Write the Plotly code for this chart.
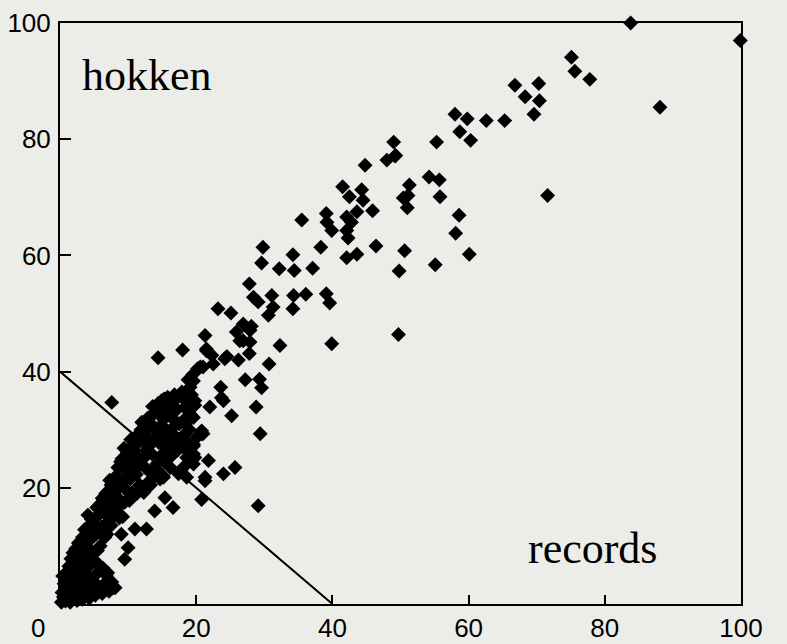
import plotly.graph_objects as go

# ---- data (records on x, hokken on y) ----
upper_x = [83.8, 99.9, 88.1, 75.1, 75.6, 77.8, 71.6,
           66.8, 70.3, 68.3, 70.4, 69.6,
           58.0, 59.8, 62.6, 65.3, 58.7, 60.3,
           49.0, 55.3, 49.2, 48.0, 49.3, 44.8,
           54.2, 55.7, 51.3, 50.4, 51.1, 51.0, 55.8,
           45.9, 58.6, 58.1, 46.4, 50.6, 60.1, 49.8, 55.1, 49.7,
           41.5, 42.5, 44.3, 44.5, 43.6, 42.1, 42.8, 42.1, 42.3,
           39.1, 39.2, 39.9, 35.5, 38.3, 42.1, 43.6,
           29.8, 29.6, 34.2, 32.2, 34.4, 37.1,
           27.8, 28.4, 29.1, 31.1, 31.3, 30.6, 34.3, 34.2, 36.1, 39.1, 39.6,
           23.2, 25.1, 26.9, 25.9, 27.9, 26.9, 27.9, 27.8, 26.2, 32.3, 30.7, 39.9,
           21.3, 21.5, 22.5, 24.2, 21.0, 27.2, 29.3, 29.6, 23.6, 23.7, 28.1, 26.4]
upper_y = [100.0, 97.0, 85.5, 94.1, 91.7, 90.3, 70.3,
           89.3, 89.6, 87.3, 86.6, 84.3,
           84.3, 83.5, 83.2, 83.2, 81.3, 79.8,
           79.5, 79.5, 77.1, 76.4, 77.2, 75.5,
           73.5, 73.0, 72.1, 69.9, 70.3, 68.2, 70.1,
           67.7, 66.9, 63.8, 61.6, 60.8, 60.2, 57.3, 58.4, 46.4,
           71.8, 70.1, 71.3, 69.5, 67.5, 66.6, 65.7, 64.3, 63.0,
           67.2, 65.7, 64.3, 66.1, 61.4, 59.6, 60.2,
           61.4, 58.7, 60.1, 57.7, 57.4, 57.8,
           55.1, 52.8, 52.0, 53.1, 51.1, 49.7, 53.1, 50.8, 53.3, 53.4, 51.8,
           50.8, 50.1, 48.2, 46.8, 47.1, 45.3, 45.1, 43.1, 42.0, 44.5, 41.3, 44.8,
           46.2, 43.6, 41.3, 42.2, 40.8, 38.6, 38.7, 37.2, 37.3, 35.5, 47.8, 45.3]

mid_x = [14.4, 18.0, 21.5, 22.3, 24.5, 24.0, 25.2, 28.8, 29.4, 29.1,
         20.6, 19.6, 18.8, 18.4, 15.2, 16.2, 14.7, 19.1, 18.1, 12.0, 13.7, 16.6, 20.8, 20.1,
         19.6, 19.8, 16.6, 15.7, 11.7, 12.7, 11.0, 14.2, 16.2, 15.2, 21.8, 24.0, 25.7, 21.3,
         13.2, 17.4, 21.3, 20.8, 19.6, 18.6,
         19.1, 18.6, 19.8, 19.6, 18.4, 18.1, 20.8, 18.8, 19.6, 18.6,
         7.6, 12.7, 11.0, 9.0, 10.0, 9.5, 13.9, 15.4, 16.6, 13.7, 15.1,
         22.0, 21.0, 18.6, 19.6, 14.7, 18.1]
mid_y = [42.4, 43.7, 43.9, 42.8, 42.6, 35.0, 32.4, 33.9, 29.3, 16.9,
         40.8, 38.4, 36.4, 35.0, 34.1, 33.3, 32.7, 32.7, 31.6, 31.3, 30.4, 30.4, 29.8, 28.7,
         27.2, 25.2, 27.6, 26.7, 28.1, 26.4, 26.4, 24.1, 23.5, 21.8, 24.7, 22.4, 23.5, 21.8,
         22.7, 22.4, 21.2, 18.0, 24.1, 21.8,
         37.3, 35.0, 35.0, 32.1, 31.0, 29.0, 29.3, 27.0, 25.8, 25.2,
         34.7, 12.9, 12.9, 12.0, 9.7, 7.7, 16.0, 18.3, 16.6, 21.8, 22.1,
         33.9, 29.3, 26.4, 27.5, 21.5, 23.5]

band_x = [0.2, 0.5, 0.8, 0.3, 1.0, 0.6, 1.2, 0.4, 1.4, 1.0,
          1.5, 1.8, 1.6, 2.0, 1.3, 1.8, 1.6, 2.1, 1.9, 2.2,
          2.5, 2.8, 2.4, 2.9, 2.6, 2.3, 2.8, 3.0, 2.7, 3.1,
          3.3, 3.6, 3.4, 3.8, 3.2, 3.7, 3.5, 3.9, 3.3, 3.8, 3.6, 4.0,
          4.3, 4.6, 4.2, 4.8, 4.5, 4.1, 4.7, 4.4, 4.9, 4.3, 4.6, 4.9, 4.1,
          5.2, 5.6, 5.4, 5.8, 5.1, 5.5, 5.9, 5.3, 5.7, 5.2, 5.8, 5.4, 5.9,
          6.2, 6.5, 6.8, 6.3, 6.6, 6.1, 6.9, 6.4, 6.8, 6.2, 6.7, 6.9,
          7.2, 7.6, 7.0, 7.8, 7.3, 7.7, 7.1, 7.5, 7.9, 7.3, 7.8, 7.5,
          8.1, 8.3, 8.6, 8.2, 8.8, 8.5, 8.9, 8.4, 8.7,
          9.2, 9.5, 9.8, 9.3, 9.7, 9.1, 9.9, 9.4,
          10.2, 10.6, 10.3, 10.8, 10.1, 10.5, 10.9, 10.4,
          11.3, 11.7, 11.2, 11.8, 11.5, 11.3, 11.9,
          12.3, 12.8, 12.5, 12.2, 12.9, 12.4, 12.7, 12.9,
          13.3, 13.8, 13.5, 13.2, 13.9, 13.4, 13.8, 13.6,
          14.3, 14.8, 14.5, 14.2, 14.9, 14.6, 14.4, 14.9,
          15.3, 15.8, 15.5, 15.2, 15.9, 15.6, 15.3, 15.8,
          16.4, 16.8, 16.5, 16.2, 16.9, 16.6, 16.8,
          17.3, 17.7, 17.5, 17.2, 17.8, 17.4, 17.9,
          18.5, 19.0, 18.3, 19.3, 18.8, 19.5, 20.2, 19.8]
band_y = [0.3, 1.2, 0.5, 2.0, 2.5, 3.5, 1.0, 4.8, 4.0, 5.5,
          0.3, 1.5, 2.8, 3.5, 6.5, 5.0, 7.8, 6.2, 8.8, 2.0,
          0.6, 1.8, 4.5, 3.0, 7.0, 9.5, 8.0, 5.5, 10.5, 9.2,
          0.8, 2.2, 4.0, 3.2, 6.5, 6.0, 8.5, 7.5, 11.5, 10.8, 12.8, 9.5,
          1.0, 2.5, 4.8, 4.0, 6.8, 8.2, 9.0, 11.0, 11.8, 13.5, 14.6, 13.2, 15.3,
          1.5, 3.0, 5.2, 6.5, 7.5, 9.2, 10.0, 12.0, 13.0, 14.8, 15.5, 16.6, 17.2,
          1.8, 3.5, 5.0, 6.2, 11.5, 13.2, 14.0, 15.8, 17.0, 18.2, 19.0, 12.0,
          2.2, 3.8, 5.4, 2.8, 16.0, 17.8, 19.5, 20.5, 19.0, 21.3, 15.0, 13.5,
          2.8, 18.5, 20.0, 22.0, 21.5, 23.5, 24.5, 16.5, 14.8,
          15.0, 17.5, 19.5, 21.0, 23.0, 25.0, 26.0, 26.8,
          17.8, 19.2, 21.5, 23.3, 24.6, 26.0, 27.5, 28.3,
          19.0, 20.5, 22.3, 24.0, 25.2, 29.0, 30.0,
          19.2, 20.8, 23.5, 25.0, 27.0, 28.8, 29.8, 32.0,
          20.5, 23.2, 25.8, 27.5, 28.2, 31.0, 32.8, 34.0,
          23.0, 25.5, 27.8, 29.0, 30.8, 33.5, 34.5, 35.0,
          24.5, 28.5, 30.0, 31.8, 32.5, 35.0, 35.3, 35.6,
          25.5, 29.0, 32.0, 34.5, 35.8, 34.8, 36.0,
          26.5, 28.0, 31.0, 33.5, 36.0, 35.8, 36.5,
          28.0, 30.0, 33.8, 36.0, 38.6, 39.5, 40.5, 34.2]

line_x = [0, 40]
line_y = [40, 0]

x_ticks = [0, 20, 40, 60, 80, 100]
x_tick_text = ["0" + "\u00a0" * 6, "20", "40", "60", "80", "100"]
y_ticks = [20, 40, 60, 80, 100]
y_tick_text = ["20", "40", "60", "80", "100"]

bg = "#ecece9"

pts_x = upper_x + mid_x + band_x
pts_y = upper_y + mid_y + band_y

fig = go.Figure()
fig.add_trace(go.Scatter(
    x=pts_x, y=pts_y, mode="markers",
    marker=dict(symbol="diamond", size=11.5, color="black", line=dict(width=0)),
    cliponaxis=False, showlegend=False, hoverinfo="skip"))
fig.add_trace(go.Scatter(
    x=line_x, y=line_y, mode="lines",
    line=dict(color="black", width=2), showlegend=False, hoverinfo="skip"))

fig.add_annotation(x=2.9, y=91, xref="x", yref="y", text="hokken",
                   showarrow=False, xanchor="left", yanchor="middle",
                   font=dict(family="Liberation Serif", size=44, color="black"))
fig.add_annotation(x=88.1, y=9.5, xref="x", yref="y", text="records",
                   showarrow=False, xanchor="right", yanchor="middle",
                   font=dict(family="Liberation Serif", size=44, color="black"))

axis_font = dict(family="Liberation Sans", size=26, color="black")
fig.update_xaxes(range=[0, 100], tickvals=x_ticks, ticktext=x_tick_text,
                 ticks="inside", ticklen=9, tickwidth=2, tickcolor="black",
                 showline=True, linecolor="black", linewidth=2, mirror=True,
                 showgrid=False, zeroline=False, tickfont=axis_font,
                 ticklabelstandoff=0, automargin=False)
fig.update_yaxes(range=[0, 100], tickvals=y_ticks, ticktext=y_tick_text,
                 ticks="inside", ticklen=11, tickwidth=2, tickcolor="black",
                 showline=True, linecolor="black", linewidth=2, mirror=True,
                 showgrid=False, zeroline=False, tickfont=axis_font,
                 ticklabelstandoff=2, automargin=False)
fig.update_layout(width=787, height=644,
                  margin=dict(l=60, r=46, t=23, b=40),
                  paper_bgcolor=bg, plot_bgcolor=bg)

fig.write_html("out.html", config={"displayModeBar": False},
               post_script="document.body.style.margin='0px';"
                           "document.body.style.background='" + bg + "';")
